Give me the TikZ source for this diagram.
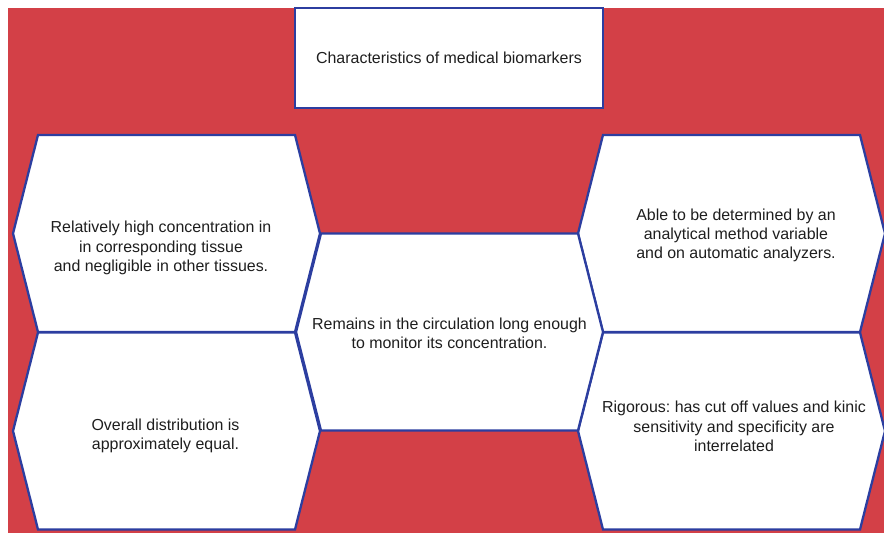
\documentclass[tikz,border=0pt]{standalone}
\usepackage{fontspec}
\setmainfont{Liberation Sans}
\frenchspacing
\definecolor{bgred}{RGB}{211,64,71}
\definecolor{edgeblue}{RGB}{44,62,160}
\definecolor{txt}{RGB}{30,30,30}
\tikzset{
  hexbox/.style={draw=edgeblue, line width=2.3bp, fill=white, line join=miter},
  titlebox/.style={draw=edgeblue, line width=2.3bp, fill=white},
  lbl/.style={align=center, text=txt, inner sep=0pt, font=\fontsize{16}{19.3}\selectfont}
}
\begin{document}
\begin{tikzpicture}[x=1bp,y=-1bp]
\useasboundingbox (0,0) rectangle (884,533);
\fill[bgred] (8,8) rectangle (884,533);
% title
\draw[titlebox] (295,8) rectangle (603,108);
\node[lbl] (title) at (449,58) {Characteristics of medical biomarkers};
% hexagons
\foreach \cx/\cy in {166.5/233.5, 166.5/431, 731.5/233.5, 731.5/431, 449.5/332}{
  \draw[hexbox] (\cx-153.5,\cy) -- (\cx-128.5,\cy-98.5) -- (\cx+128.5,\cy-98.5)
    -- (\cx+153.5,\cy) -- (\cx+128.5,\cy+98.5) -- (\cx-128.5,\cy+98.5) -- cycle;
}
\node[lbl] (lt) at (161,248) {Relatively high concentration in\\in corresponding tissue\\and negligible in other tissues.};
\node[lbl] (lb) at (165.5,436) {Overall distribution is\\approximately equal.};
\node[lbl] (c) at (449.5,333.5) {Remains in the circulation long enough\\to monitor its concentration.};
\node[lbl] (rt) at (736,235.5) {Able to be determined by an\\analytical method variable\\and on automatic analyzers.};
\node[lbl] (rb) at (734,426.5) {Rigorous: has cut off values and kinic\\sensitivity and specificity are\\interrelated};
\end{tikzpicture}
\end{document}
